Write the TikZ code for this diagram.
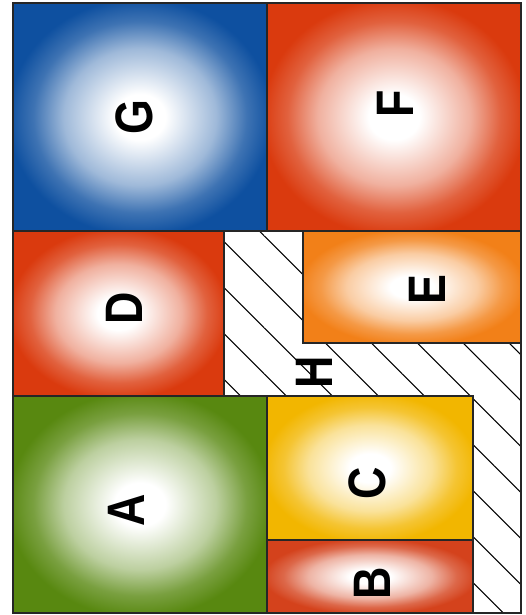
\documentclass[tikz,border=0pt]{standalone}
\usepackage{fontspec}
\newfontfamily\tilefont{Liberation Sans}
\usetikzlibrary{patterns.meta}

\definecolor{tileblue}{RGB}{14,80,160}
\definecolor{tilered}{RGB}{218,58,14}
\definecolor{tileorange}{RGB}{242,128,24}
\definecolor{tileyellow}{RGB}{242,182,0}
\definecolor{tilebrick}{RGB}{212,66,28}
\definecolor{tilegreen}{RGB}{88,136,16}
\colorlet{tilecol}{white}
\pgfdeclareradialshading[tilecol]{tileglow}{\pgfpoint{0bp}{0bp}}{color(0bp)=(white); color(5bp)=(white); color(15bp)=(tilecol!40!white); color(21bp)=(tilecol!80!white); color(26bp)=(tilecol); color(50bp)=(tilecol)}

\begin{document}
\begin{tikzpicture}[
    x=0.02cm, y=-0.02cm,
    tile/.style={draw=black!85, line width=0.8pt, /utils/exec={\colorlet{tilecol}{#1}}, shading=tileglow},
    gap/.style={draw=black!85, line width=0.8pt, pattern={Lines[angle=-45, distance=0.65cm, line width=0.6pt]}, pattern color=black},
    letter/.style={font={\fontsize{30}{30}\selectfont\tilefont\bfseries}, rotate=90, xscale=0.85, inner sep=0pt}
]
\useasboundingbox (0,0) rectangle (525,615);

% Free space
\draw[gap] (224,231) -- (303,231) -- (303,343) -- (521,343) -- (521,613)
    -- (473,613) -- (473,396) -- (224,396) -- cycle;

% Tiles
\draw[tile=tileblue]   (13,3)    rectangle (267,231);
\draw[tile=tilered]    (267,3)   rectangle (521,231);
\draw[tile=tilered]    (13,231)  rectangle (224,396);
\draw[tile=tileorange] (303,231) rectangle (521,343);
\draw[tile=tilegreen]  (13,396)  rectangle (267,613);
\draw[tile=tileyellow] (267,396) rectangle (473,540);
\draw[tile=tilebrick]  (267,540) rectangle (473,613);

% Labels
\node[letter] (g) at (134,117) {G};
\node[letter] (f) at (395,104) {F};
\node[letter] (d) at (124,308) {D};
\node[letter] (e) at (427,290) {E};
\node[letter] (h) at (314,372) {H};
\node[letter] (a) at (126,510) {A};
\node[letter] (c) at (367,483) {C};
\node[letter] (b) at (372,583) {B};

\end{tikzpicture}
\end{document}
